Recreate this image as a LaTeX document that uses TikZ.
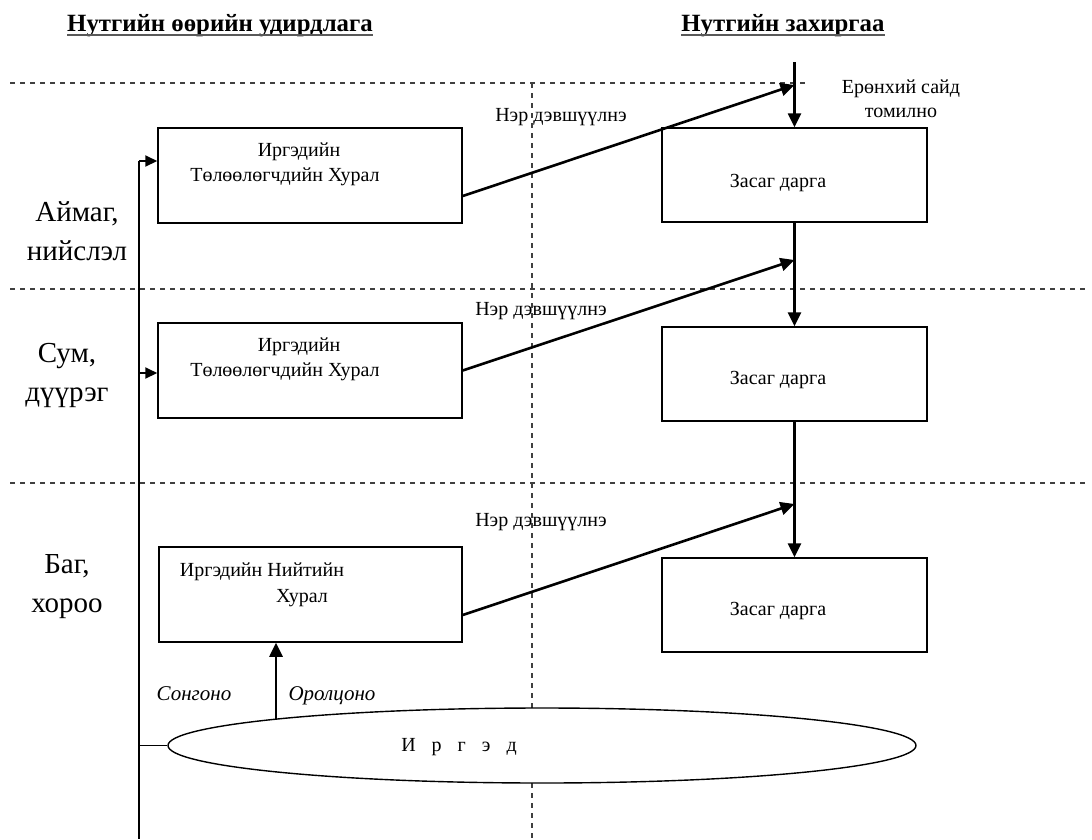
\documentclass[tikz,border=0pt]{standalone}
\usepackage{fontspec}
\setmainfont{Liberation Serif}
\usetikzlibrary{arrows.meta,shapes.geometric}
\begin{document}
\begin{tikzpicture}[x=1pt,y=-1pt,
  boxnode/.style={draw, line width=1.5pt, inner sep=0pt},
  txt/.style={inner sep=0pt, font=\fontsize{20}{24}\selectfont, align=center},
  side/.style={inner sep=0pt, font=\fontsize{29}{39}\selectfont, align=center},
  head/.style={inner sep=0pt, font=\fontsize{24.8}{28}\selectfont\bfseries},
  itl/.style={inner sep=0pt, anchor=base, font=\fontsize{21}{24}\selectfont\itshape},
  sep/.style={dashed, dash pattern=on 5pt off 5pt, line width=1.2pt, black!75},
  arr/.style={line width=2.6pt, -{Triangle[length=14pt,width=13pt]}},
  sarr/.style={line width=2pt, -{Triangle[length=12pt,width=11pt]}}]
\useasboundingbox (0,0) rectangle (1092,839);

% headings
\node[head] (h1) at (220,26) {Нутгийн өөрийн удирдлага};
\node[head] (h2) at (783,26) {Нутгийн захиргаа};
\draw[black!65, line width=1.3pt] ([yshift=-3pt]h1.base west) -- ([yshift=-3pt]h1.base east);
\draw[black!65, line width=1.3pt] ([yshift=-3pt]h2.base west) -- ([yshift=-3pt]h2.base east);

% separators
\coordinate (s1a) at (10,83);  \coordinate (s1b) at (806,83);
\coordinate (s2a) at (10,289); \coordinate (s2b) at (1085,289);
\coordinate (s3a) at (10,483); \coordinate (s3b) at (1085,483);
\coordinate (va) at (532,83);  \coordinate (vb) at (532,839);
\draw[sep] (s1a) -- (s1b);
\draw[sep] (s2a) -- (s2b);
\draw[sep] (s3a) -- (s3b);
\draw[sep] (va) -- (vb);

% side labels
\node[side] (l1) at (77,231) {Аймаг,\\нийслэл};
\node[side] (l2) at (67,375) {Сум,\\дүүрэг};
\node[side] (l3) at (67,587) {Баг,\\хороо};

% left boxes
\node[boxnode, minimum width=304pt, minimum height=95pt] (b1) at (310,175.5) {};
\node[boxnode, minimum width=304pt, minimum height=95pt] (b2) at (310,370.5) {};
\node[boxnode, minimum width=303pt, minimum height=95pt] (b3) at (310.5,594.5) {};
\node[txt] (b1a) at (299,152) {Иргэдийн};
\node[txt] (b1b) at (285,177) {Төлөөлөгчдийн Хурал};
\node[txt] (b2a) at (299,347) {Иргэдийн};
\node[txt] (b2b) at (285,372) {Төлөөлөгчдийн Хурал};
\node[txt] (b3a) at (262,572) {Иргэдийн Нийтийн};
\node[txt] (b3b) at (302,598) {Хурал};

% right boxes
\node[boxnode, minimum width=265pt, minimum height=94pt] (r1) at (794.5,175) {};
\node[boxnode, minimum width=265pt, minimum height=94pt] (r2) at (794.5,374) {};
\node[boxnode, minimum width=265pt, minimum height=94pt] (r3) at (794.5,605) {};
\node[txt] (r1t) at (778,183) {Засаг дарга};
\node[txt] (r2t) at (778,380) {Засаг дарга};
\node[txt] (r3t) at (778,611) {Засаг дарга};

% appointment
\coordinate (top) at (794.5,62);
\node[txt] (pm) at (901,99) {Ерөнхий сайд\\томилно};
\draw[arr] (top) -- (r1.north);
\draw[arr] (r1.south) -- (r2.north);
\draw[arr] (r2.south) -- (r3.north);

% nominations
\coordinate (t1) at (794.5,85);
\coordinate (t2) at (794.5,260);
\coordinate (t3) at (794.5,504);
\draw[arr] ([yshift=-20.5pt]b1.east) -- (t1);
\draw[arr] (b2.east) -- (t2);
\draw[arr] ([yshift=-20.5pt]b3.east) -- (t3);
\node[txt] (n1) at (561,117) {Нэр дэвшүүлнэ};
\node[txt] (n2) at (541,311) {Нэр дэвшүүлнэ};
\node[txt] (n3) at (541,522) {Нэр дэвшүүлнэ};

% citizens
\node[ellipse, draw, fill=white, line width=1.4pt, minimum width=748pt, minimum height=75pt, inner sep=0pt] (el) at (542,745.5) {};
\node[txt] (elt) at (459,747) {И\hspace{16pt}р\hspace{16pt}г\hspace{16pt}э\hspace{16pt}д};
\coordinate (lt) at (139,161);
\coordinate (lm) at (139,373);
\coordinate (lb) at (139,839);
\draw[line width=1.5pt] (lt) -- (lb);
\draw[sarr] (lt) -- (lt -| b1.west);
\draw[sarr] (lm) -- (lm -| b2.west);
\draw[line width=1.4pt] (el.west) -- (el.west -| lt);
\coordinate (up) at (276,719);
\draw[arr] (up) -- (up |- b3.south);
\node[itl] (so) at (194,700) {Сонгоно};
\node[itl] (or) at (332,700) {Оролцоно};
\end{tikzpicture}
\end{document}
